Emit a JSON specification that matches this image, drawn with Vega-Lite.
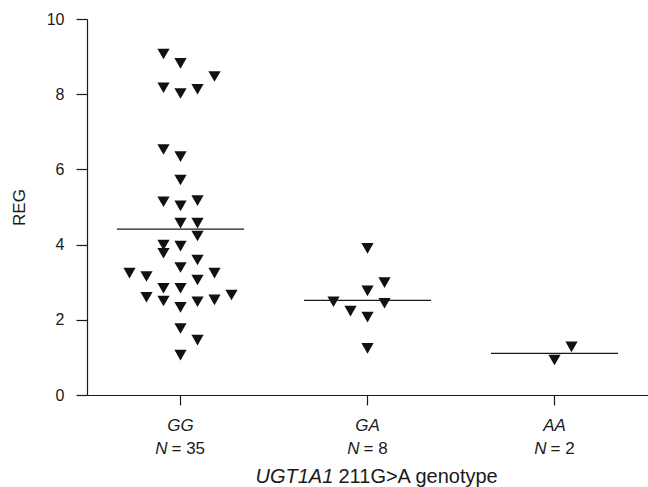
{
  "$schema": "https://vega.github.io/schema/vega-lite/v6.json",
  "autosize": "none",
  "padding": {"left": 87, "top": 19, "right": 0, "bottom": 92},
  "width": 561,
  "height": 376,
  "background": "white",
  "config": {
    "view": {"stroke": null},
    "font": "Liberation Sans",
    "axis": {"grid": false, "domainColor": "#1a1a1a", "tickColor": "#1a1a1a", "labelColor": "#1a1a1a", "titleColor": "#1a1a1a", "labelFontSize": 17, "titleFontSize": 20, "titleFontWeight": "normal", "domainWidth": 1.2, "tickWidth": 1.2}
  },
  "data": {
    "values": [
      {"genotype": "GG", "col": -1, "reg": 9.07},
      {"genotype": "GG", "col": 0, "reg": 8.82},
      {"genotype": "GG", "col": 2, "reg": 8.47},
      {"genotype": "GG", "col": -1, "reg": 8.17},
      {"genotype": "GG", "col": 0, "reg": 8.02},
      {"genotype": "GG", "col": 1, "reg": 8.13},
      {"genotype": "GG", "col": -1, "reg": 6.53},
      {"genotype": "GG", "col": 0, "reg": 6.34},
      {"genotype": "GG", "col": 0, "reg": 5.72},
      {"genotype": "GG", "col": -1, "reg": 5.14},
      {"genotype": "GG", "col": 0, "reg": 5.03},
      {"genotype": "GG", "col": 1, "reg": 5.17},
      {"genotype": "GG", "col": 0, "reg": 4.57},
      {"genotype": "GG", "col": 1, "reg": 4.57},
      {"genotype": "GG", "col": 1, "reg": 4.23},
      {"genotype": "GG", "col": -1, "reg": 3.99},
      {"genotype": "GG", "col": 0, "reg": 3.96},
      {"genotype": "GG", "col": -1, "reg": 3.77},
      {"genotype": "GG", "col": 1, "reg": 3.59},
      {"genotype": "GG", "col": 0, "reg": 3.39},
      {"genotype": "GG", "col": -3, "reg": 3.24},
      {"genotype": "GG", "col": -2, "reg": 3.15},
      {"genotype": "GG", "col": 2, "reg": 3.24},
      {"genotype": "GG", "col": 1, "reg": 3.06},
      {"genotype": "GG", "col": -1, "reg": 2.84},
      {"genotype": "GG", "col": 0, "reg": 2.84},
      {"genotype": "GG", "col": 3, "reg": 2.66},
      {"genotype": "GG", "col": -2, "reg": 2.6},
      {"genotype": "GG", "col": -1, "reg": 2.5},
      {"genotype": "GG", "col": 1, "reg": 2.48},
      {"genotype": "GG", "col": 2, "reg": 2.53},
      {"genotype": "GG", "col": 0, "reg": 2.33},
      {"genotype": "GG", "col": 0, "reg": 1.77},
      {"genotype": "GG", "col": 1, "reg": 1.46},
      {"genotype": "GG", "col": 0, "reg": 1.06},
      {"genotype": "GA", "col": 0, "reg": 3.9},
      {"genotype": "GA", "col": 1, "reg": 2.99},
      {"genotype": "GA", "col": 0, "reg": 2.77},
      {"genotype": "GA", "col": -2, "reg": 2.48},
      {"genotype": "GA", "col": 1, "reg": 2.44},
      {"genotype": "GA", "col": -1, "reg": 2.23},
      {"genotype": "GA", "col": 0, "reg": 2.07},
      {"genotype": "GA", "col": 0, "reg": 1.24},
      {"genotype": "AA", "col": 1, "reg": 1.28},
      {"genotype": "AA", "col": 0, "reg": 0.93}
    ]
  },
  "resolve": {"axis": {"x": "independent", "y": "shared"}},
  "layer": [
    {
      "transform": [{"filter": "datum.genotype == 'GG'"}],
      "mark": {"type": "point", "shape": "triangle-down", "filled": true, "size": 150, "color": "#111111", "opacity": 1},
      "encoding": {
        "x": {
          "field": "genotype", "type": "nominal",
          "scale": {"domain": ["GG", "GA", "AA"], "paddingInner": 0, "paddingOuter": 0},
          "axis": {
            "orient": "bottom",
            "labelAngle": 0,
            "labelFontSize": 17,
            "labelFontStyle": "italic",
            "labelBaseline": "alphabetic",
            "labelPadding": 25,
            "tickSize": 10,
            "title": "UGT1A1",
            "titleFontStyle": "italic",
            "titleX": 168,
            "titleY": 87,
            "titleAlign": "left",
            "titleBaseline": "alphabetic"
          }
        },
        "xOffset": {"field": "col", "type": "quantitative", "scale": {"domain": [-5.5, 5.5]}},
        "y": {
          "field": "reg", "type": "quantitative",
          "scale": {"domain": [0, 10], "nice": false},
          "axis": {"values": [0, 2, 4, 6, 8, 10], "tickSize": 11, "labelPadding": 12, "labelFontSize": 16, "title": "REG", "titleFontSize": 17, "titlePadding": 18}
        }
      }
    },
    {
      "transform": [{"filter": "datum.genotype != 'GG'"}],
      "mark": {"type": "point", "shape": "triangle-down", "filled": true, "size": 150, "color": "#111111", "opacity": 1},
      "encoding": {
        "x": {
          "field": "genotype", "type": "nominal",
          "scale": {"domain": ["GG", "GA", "AA"]},
          "axis": {
            "orient": "bottom",
            "domain": false,
            "tickOpacity": 0,
            "tickSize": 10,
            "labelAngle": 0,
            "labelFontSize": 17,
            "labelExpr": "'N'",
            "labelFontStyle": "italic",
            "labelAlign": "right",
            "labelBaseline": "alphabetic",
            "labelPadding": 48,
            "labelOffset": {"condition": {"test": "datum.value == 'GG'", "value": -13}, "value": -8},
            "title": "211G>A genotype",
            "titleX": 251,
            "titleY": 87,
            "titleAlign": "left",
            "titleBaseline": "alphabetic"
          }
        },
        "xOffset": {"field": "col", "type": "quantitative", "scale": {"domain": [-5.5, 5.5]}},
        "y": {
          "field": "reg", "type": "quantitative",
          "scale": {"domain": [0, 10], "nice": false},
          "axis": {"values": [0, 2, 4, 6, 8, 10], "tickSize": 11, "labelPadding": 12, "labelFontSize": 16, "title": "REG", "titleFontSize": 17, "titlePadding": 18}
        }
      }
    },
    {
      "mark": {"type": "tick", "size": 127, "thickness": 1.2, "color": "#1a1a1a", "orient": "horizontal"},
      "encoding": {
        "x": {
          "field": "genotype", "type": "nominal",
          "scale": {"domain": ["GG", "GA", "AA"]},
          "axis": {
            "orient": "bottom",
            "domain": false,
            "tickOpacity": 0,
            "tickSize": 10,
            "labelAngle": 0,
            "labelFontSize": 17,
            "labelExpr": "datum.value == 'GG' ? '= 35' : datum.value == 'GA' ? '= 8' : '= 2'",
            "labelAlign": "left",
            "labelBaseline": "alphabetic",
            "labelPadding": 48,
            "labelOffset": {"condition": {"test": "datum.value == 'GG'", "value": -9}, "value": -4},
            "title": null
          }
        },
        "y": {
          "aggregate": "mean", "field": "reg", "type": "quantitative",
          "scale": {"domain": [0, 10], "nice": false},
          "axis": {"values": [0, 2, 4, 6, 8, 10], "tickSize": 11, "labelPadding": 12, "labelFontSize": 16, "title": "REG", "titleFontSize": 17, "titlePadding": 18}
        }
      }
    }
  ]
}
